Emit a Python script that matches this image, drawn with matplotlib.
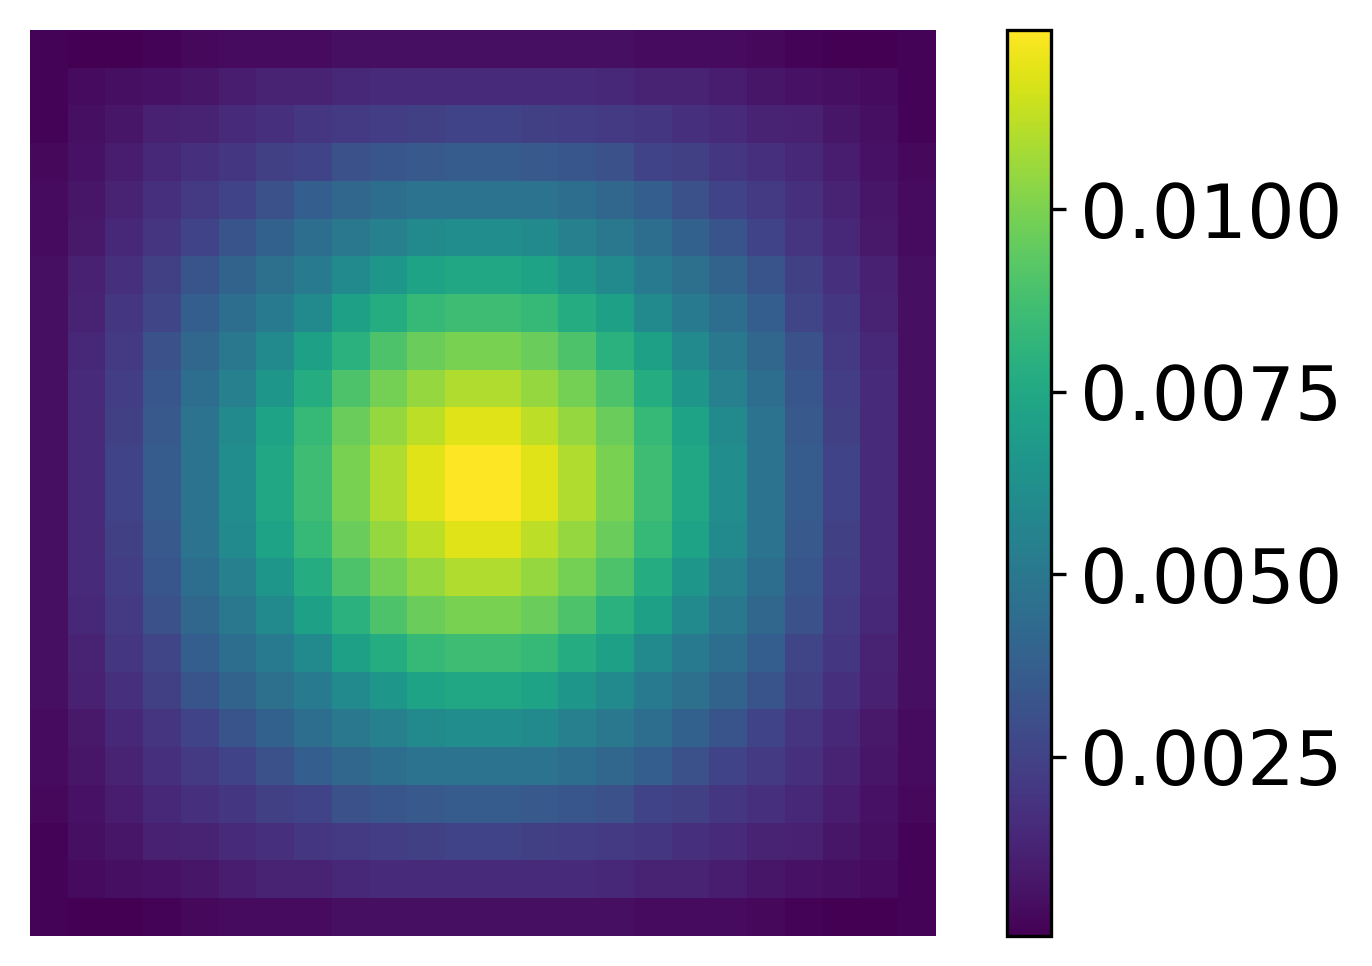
import matplotlib
matplotlib.use("Agg")
import matplotlib.pyplot as plt
import numpy as np

# cell values, in units of 1e-4
row_00 = [1.7, 0.5, 0.5, 1.7, 3.0, 4.2, 4.2, 4.2, 5.5, 5.5, 5.5, 5.5, 5.5, 5.5, 5.5, 5.5, 4.2, 4.2, 4.2, 3.0, 1.7, 0.5, 0.5, 1.7]
row_01 = [1.7, 4.2, 5.5, 6.7, 7.9, 10.4, 12.5, 12.5, 14.1, 15.4, 15.4, 15.4, 15.4, 15.4, 15.4, 14.1, 12.5, 12.5, 10.4, 7.9, 6.7, 5.5, 4.2, 1.7]
row_02 = [1.7, 5.5, 7.9, 11.7, 12.9, 15.4, 17.9, 20.3, 21.6, 22.8, 24.1, 25.3, 25.3, 24.1, 22.8, 21.6, 20.3, 17.9, 15.4, 12.9, 11.7, 7.9, 5.5, 1.7]
row_03 = [3.0, 6.7, 10.4, 14.1, 17.9, 20.3, 24.1, 25.3, 31.5, 33.5, 35.2, 36.5, 36.5, 35.2, 33.5, 31.5, 25.3, 24.1, 20.3, 17.9, 14.1, 10.4, 6.7, 3.0]
row_04 = [4.2, 7.9, 12.9, 17.9, 21.6, 25.3, 31.5, 37.7, 41.4, 45.1, 47.6, 47.6, 47.6, 47.6, 45.1, 41.4, 37.7, 31.5, 25.3, 21.6, 17.9, 12.9, 7.9, 4.2]
row_05 = [4.2, 9.2, 14.1, 19.1, 25.3, 32.7, 38.9, 45.1, 50.1, 54.5, 59.5, 61.3, 61.3, 59.5, 54.5, 50.1, 45.1, 38.9, 32.7, 25.3, 19.1, 14.1, 9.2, 4.2]
row_06 = [5.5, 11.7, 17.9, 24.1, 32.7, 40.2, 46.4, 51.3, 59.5, 66.2, 72.4, 74.9, 74.9, 72.4, 66.2, 59.5, 51.3, 46.4, 40.2, 32.7, 24.1, 17.9, 11.7, 5.5]
row_07 = [5.5, 12.5, 20.3, 26.5, 37.7, 45.1, 51.3, 59.5, 71.2, 77.4, 83.6, 86.1, 86.1, 83.6, 77.4, 71.2, 59.5, 51.3, 45.1, 37.7, 26.5, 20.3, 12.5, 5.5]
row_08 = [5.5, 14.1, 21.6, 31.5, 41.4, 50.1, 59.5, 71.2, 79.9, 89.8, 96.0, 99.7, 99.7, 96.0, 89.8, 79.9, 71.2, 59.5, 50.1, 41.4, 31.5, 21.6, 14.1, 5.5]
row_09 = [5.5, 15.4, 22.8, 33.5, 45.1, 54.5, 66.2, 77.4, 89.8, 98.5, 104.7, 109.6, 109.6, 104.7, 98.5, 89.8, 77.4, 66.2, 54.5, 45.1, 33.5, 22.8, 15.4, 5.5]
row_10 = [5.5, 15.4, 24.1, 35.2, 47.6, 59.5, 72.4, 83.6, 96.0, 104.7, 112.1, 118.5, 118.5, 112.1, 104.7, 96.0, 83.6, 72.4, 59.5, 47.6, 35.2, 24.1, 15.4, 5.5]
row_11 = [5.5, 15.4, 25.3, 36.5, 47.6, 61.3, 74.9, 86.1, 99.7, 109.6, 118.5, 124.5, 124.5, 118.5, 109.6, 99.7, 86.1, 74.9, 61.3, 47.6, 36.5, 25.3, 15.4, 5.5]

# the lower half repeats the upper half
rows = [
    row_00, row_01, row_02, row_03, row_04, row_05,
    row_06, row_07, row_08, row_09, row_10, row_11,
    row_11, row_10, row_09, row_08, row_07, row_06,
    row_05, row_04, row_03, row_02, row_01, row_00,
]
cbar_ticks = [0.0025, 0.0050, 0.0075, 0.0100]
cbar_labels = ["0.0025", "0.0050", "0.0075", "0.0100"]

W, H = 1372, 966
fig = plt.figure(figsize=(W / 300, H / 300), dpi=300)

ax = fig.add_axes([30 / W, 1 - 936 / H, 906 / W, 906 / H])
im = ax.imshow(np.array(rows) * 1e-4, cmap="viridis", interpolation="nearest")
ax.axis("off")

cax = fig.add_axes([1007 / W, 1 - 936 / H, 44 / W, 906 / H])
cbar = fig.colorbar(im, cax=cax)
cbar.set_ticks(cbar_ticks)
cbar.set_ticklabels(cbar_labels)
cbar.ax.tick_params(labelsize=18)

fig.savefig("out.png", dpi=300)
